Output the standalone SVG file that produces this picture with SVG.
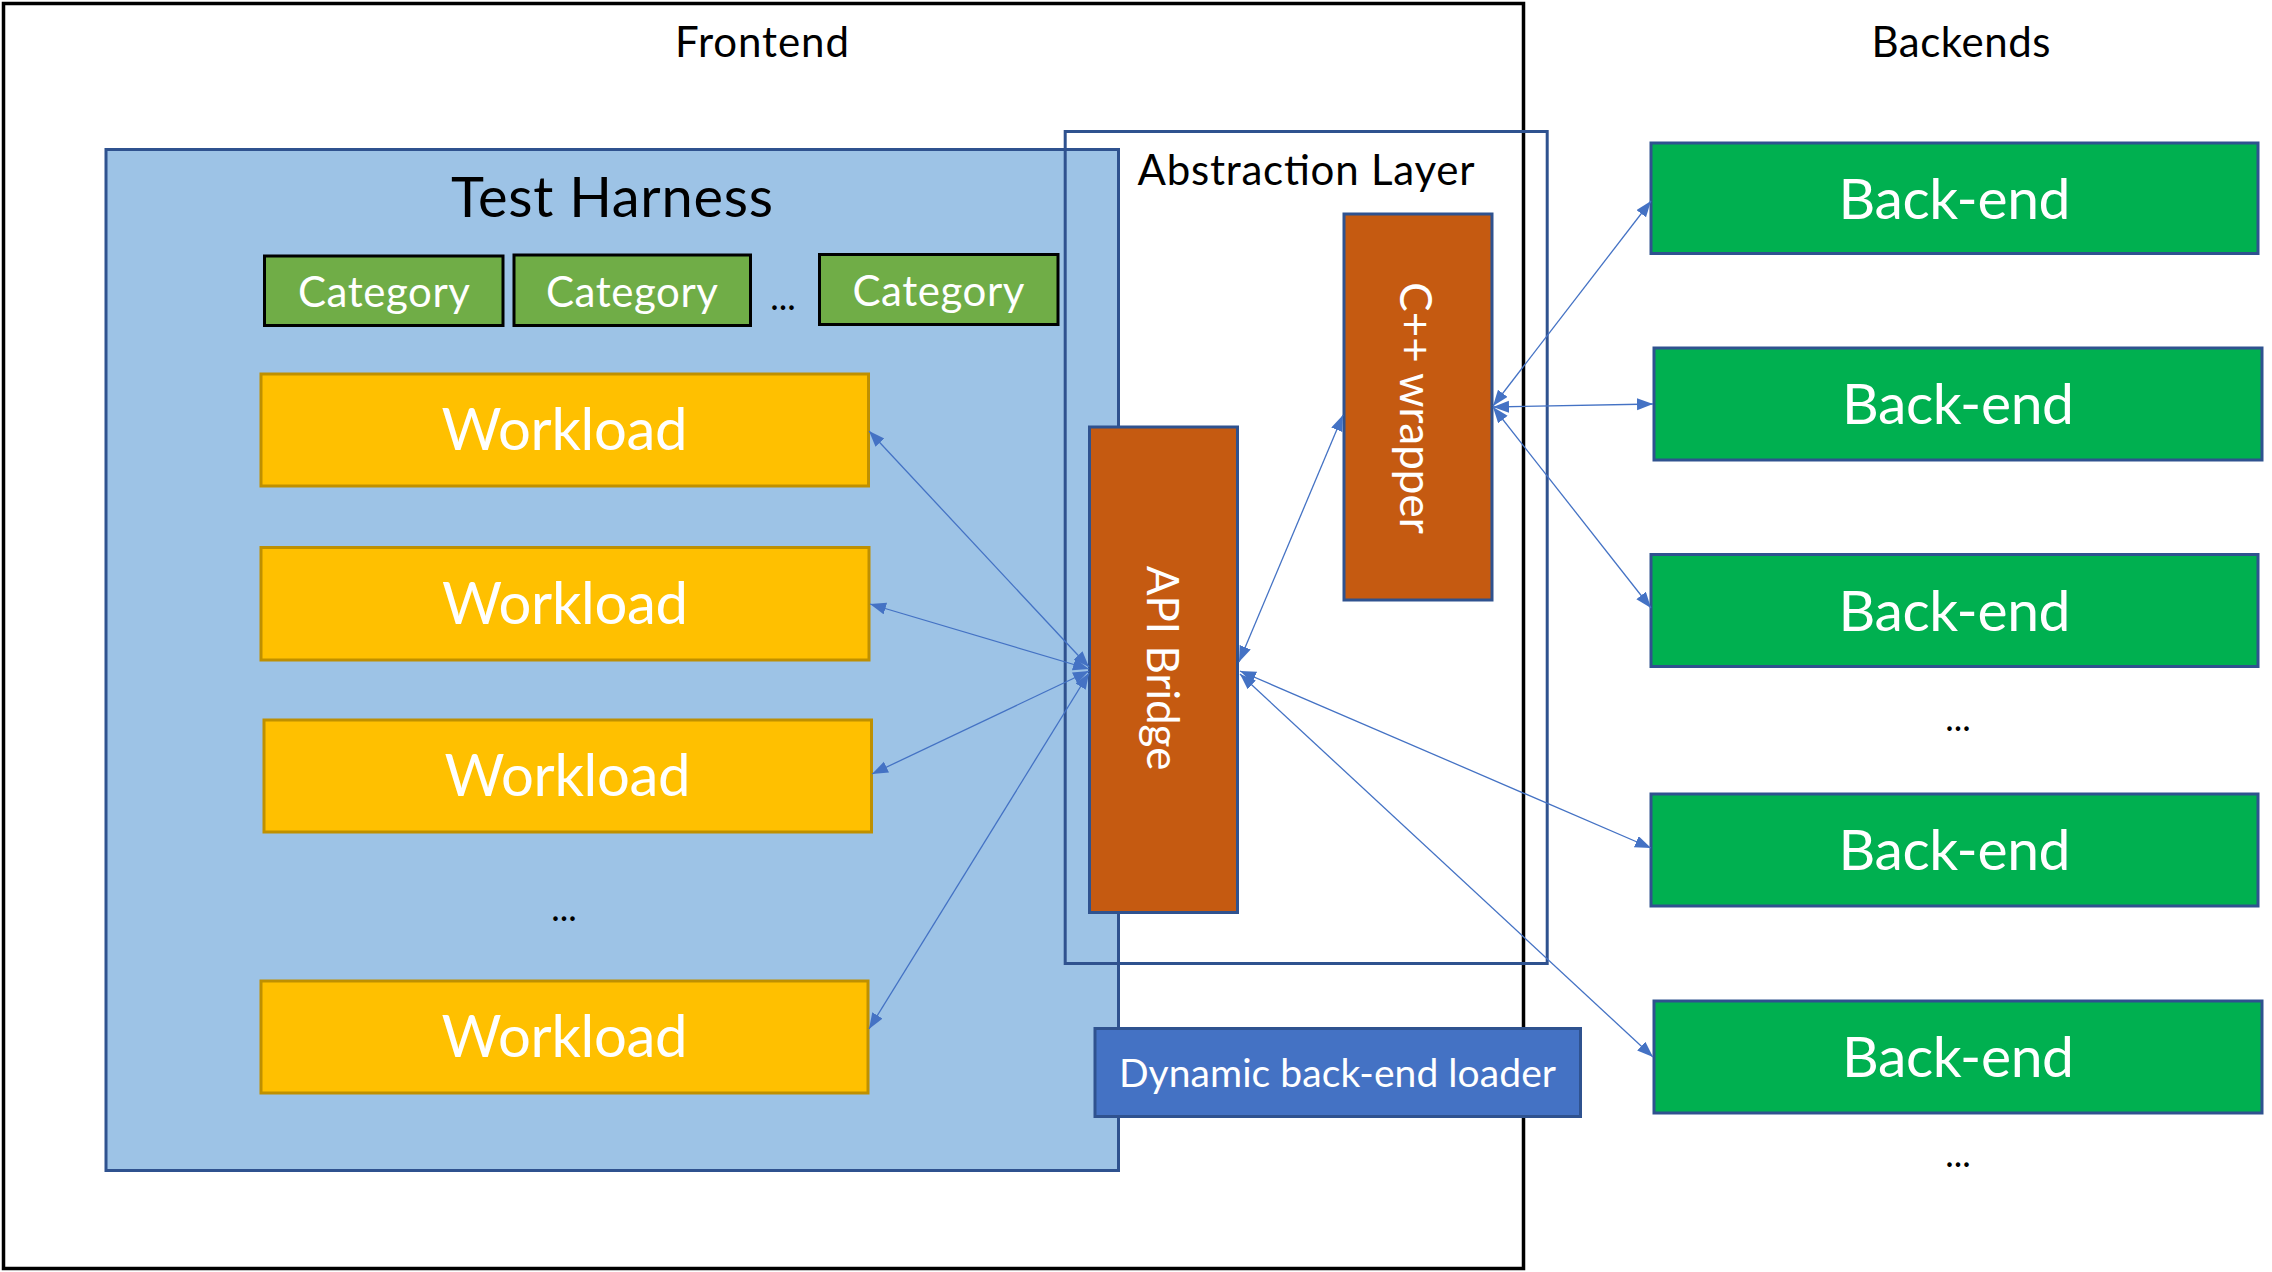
<svg xmlns="http://www.w3.org/2000/svg" width="2272" height="1272" viewBox="0 0 2272 1272">
<defs>
<style>
text{font-family:Lato,"Open Sans","Liberation Sans",sans-serif;}
.lbl{fill:#000;font-size:42px;text-anchor:middle;}
.w{fill:#fff;text-anchor:middle;}
.dots{fill:#000;font-size:36px;text-anchor:middle;}
.cat rect{fill:#70AD47;stroke:#000;stroke-width:3;}
.wl rect{fill:#FFC000;stroke:#BF9000;stroke-width:3;}
.be rect{fill:#00B050;stroke:#2F528F;stroke-width:3;}
.or{fill:#C55A11;stroke:#2F528F;stroke-width:3;}
#connectors line{stroke:#4472C4;stroke-width:1.3;fill:none;marker-start:url(#ah);marker-end:url(#ah);}
</style>
<marker id="ah" markerUnits="userSpaceOnUse" markerWidth="17" markerHeight="13" refX="16" refY="6" orient="auto-start-reverse" viewBox="0 0 17 13">
<path d="M0,0 L16,6 L0,12 z" fill="#4472C4"/>
</marker>
</defs>
<rect width="2272" height="1272" fill="#fff"/>

<g id="frontend">
<rect x="3.5" y="3.5" width="1520" height="1265" fill="none" stroke="#000" stroke-width="3.5"/>
<text class="lbl" x="762" y="57" textLength="174">Frontend</text>
</g>
<g id="backends-label">
<text class="lbl" x="1961" y="57" textLength="179">Backends</text>
</g>

<g id="test-harness">
<rect x="106" y="149.5" width="1012.5" height="1021" fill="#9DC3E6" stroke="#2F528F" stroke-width="3"/>
<text x="612" y="217" font-size="56" fill="#000" text-anchor="middle" textLength="322">Test Harness</text>
</g>

<g id="category-1" class="cat">
<rect x="264.5" y="256" width="238.5" height="69.5"/>
<text class="w" x="384" y="307" font-size="42" textLength="172">Category</text>
</g>
<g id="category-2" class="cat">
<rect x="514" y="255" width="236.5" height="70.5"/>
<text class="w" x="632" y="307" font-size="42" textLength="172">Category</text>
</g>
<text class="dots" x="783" y="310">...</text>
<g id="category-3" class="cat">
<rect x="819.5" y="254.5" width="238.5" height="70"/>
<text class="w" x="938.5" y="306" font-size="42" textLength="172">Category</text>
</g>

<g id="workload-1" class="wl">
<rect x="261" y="374" width="607.5" height="112"/>
<text class="w" x="564.5" y="450" font-size="58" textLength="246">Workload</text>
</g>
<g id="workload-2" class="wl">
<rect x="261" y="547.5" width="608" height="112.5"/>
<text class="w" x="565" y="624" font-size="58" textLength="246">Workload</text>
</g>
<g id="workload-3" class="wl">
<rect x="264" y="720" width="607.5" height="112"/>
<text class="w" x="567.5" y="796" font-size="58" textLength="246">Workload</text>
</g>
<text class="dots" x="564" y="921">...</text>
<g id="workload-4" class="wl">
<rect x="261" y="981" width="607" height="112"/>
<text class="w" x="564.5" y="1057" font-size="58" textLength="246">Workload</text>
</g>

<g id="abstraction-layer">
<rect x="1065.2" y="131.5" width="482" height="832" fill="none" stroke="#2F528F" stroke-width="3"/>
<text x="1306" y="185" font-size="42" fill="#000" text-anchor="middle" textLength="337">Abstraction Layer</text>
</g>

<g id="api-bridge">
<rect class="or" x="1089.5" y="427" width="148" height="485.5"/>
<text class="w" font-size="44" transform="translate(1146.5 668) rotate(90)">API Bridge</text>
</g>

<g id="cpp-wrapper">
<rect class="or" x="1344" y="214" width="148" height="386"/>
<text class="w" font-size="44" transform="translate(1400 408) rotate(90)">C++ wrapper</text>
</g>

<g id="dynamic-loader">
<rect x="1095" y="1028.5" width="485.5" height="88" fill="#4472C4" stroke="#2F528F" stroke-width="3"/>
<text class="w" x="1337.5" y="1086.5" font-size="39" textLength="437">Dynamic back-end loader</text>
</g>

<g id="backend-1" class="be">
<rect x="1651" y="143" width="607" height="110.5"/>
<text class="w" x="1954.5" y="218.7" font-size="57" textLength="232">Back-end</text>
</g>
<g id="backend-2" class="be">
<rect x="1654" y="348" width="608" height="112"/>
<text class="w" x="1958" y="424" font-size="57" textLength="232">Back-end</text>
</g>
<g id="backend-3" class="be">
<rect x="1651" y="554.5" width="607" height="112"/>
<text class="w" x="1954.5" y="630.5" font-size="57" textLength="232">Back-end</text>
</g>
<text class="dots" x="1958" y="731">...</text>
<g id="backend-4" class="be">
<rect x="1651" y="794" width="607" height="112"/>
<text class="w" x="1954.5" y="870" font-size="57" textLength="232">Back-end</text>
</g>
<g id="backend-5" class="be">
<rect x="1654" y="1001" width="608" height="112"/>
<text class="w" x="1958" y="1077" font-size="57" textLength="232">Back-end</text>
</g>
<text class="dots" x="1958" y="1167">...</text>

<g id="connectors">
<line x1="1089" y1="667" x2="869" y2="431"/>
<line x1="1089" y1="669" x2="870" y2="604"/>
<line x1="1089" y1="671" x2="872" y2="774"/>
<line x1="1089" y1="673" x2="869" y2="1029"/>
<line x1="1239" y1="662" x2="1343" y2="415"/>
<line x1="1240" y1="671" x2="1651" y2="848"/>
<line x1="1240" y1="674" x2="1653" y2="1057"/>
<line x1="1493" y1="406" x2="1651" y2="201"/>
<line x1="1493" y1="407" x2="1653" y2="404"/>
<line x1="1493" y1="407" x2="1651" y2="608"/>
</g>
</svg>
